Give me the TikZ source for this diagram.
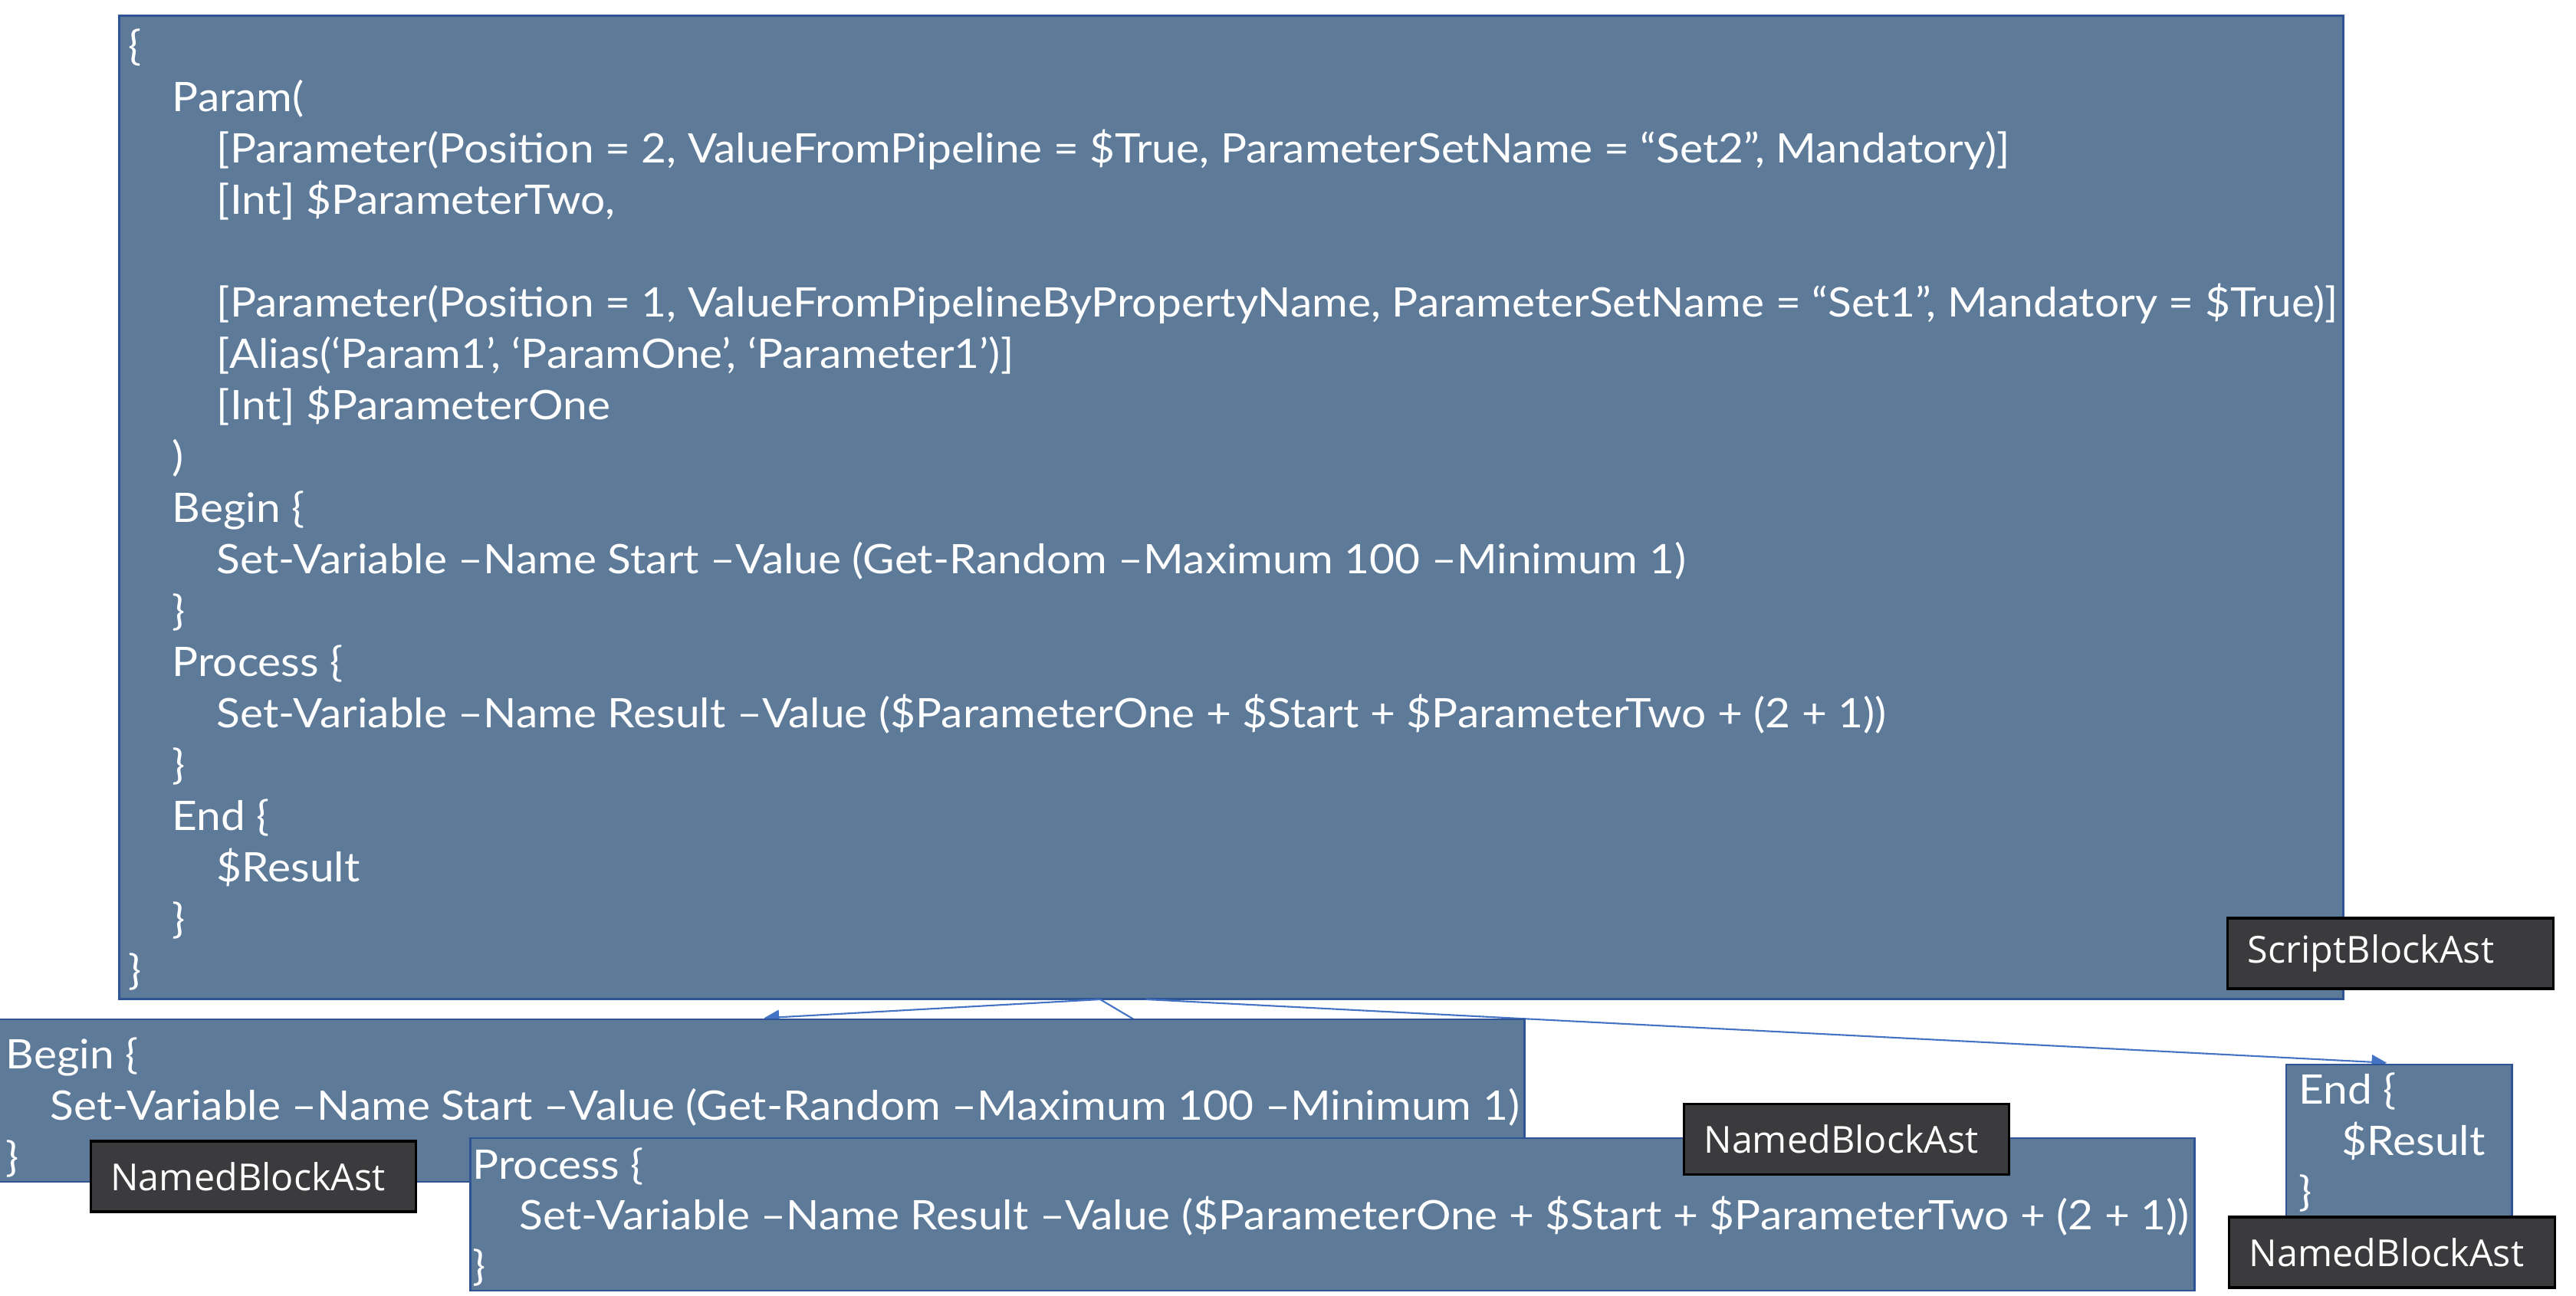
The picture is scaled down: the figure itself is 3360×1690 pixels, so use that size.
\documentclass[tikz,border=0pt]{standalone}
\usepackage{fontspec}
\newfontfamily\codefont{Lato}
\newfontfamily\labelfont{Open Sans}
\usetikzlibrary{arrows.meta}
\definecolor{boxfill}{HTML}{5D7A99}
\definecolor{boxline}{HTML}{2F5496}
\definecolor{arrowc}{HTML}{4472C4}
\definecolor{lblfill}{HTML}{3B3B3D}
\newcommand{\codetext}[1]{\scalebox{1.07}[1]{#1}}
\tikzset{
  x=0.01cm, y=-0.01cm,
  codebox/.style={draw=boxline, fill=boxfill, line width=0.8pt, rectangle, inner sep=0pt},
  code/.style={anchor=base west, inner sep=0pt, text=white, font=\codefont\fontsize{15.1}{18}\selectfont},
  lbl/.style={draw=black, fill=lblfill, line width=0.9pt, rectangle, text=white,
    font=\labelfont\fontsize{13.8}{15}\selectfont, inner xsep=0.26cm, inner ysep=0pt,
    text width=3.72cm, align=left, minimum height=0.92cm},
  conn/.style={draw=arrowc, line width=0.6pt, -{Triangle[length=5.6pt,width=5.4pt]}}
}
\begin{document}
\begin{tikzpicture}
\useasboundingbox (0,0) rectangle (3360,1690);
% main script block
\node[codebox, minimum width=29cm, minimum height=12.82cm] (main) at (1606,662) {};
\node[code] (l0) at (167,78) {\codetext{\{}};
\node[code] (l1) at (224,145) {\codetext{Param(}};
\node[code] (l2) at (282,212) {\codetext{[Parameter(Position = 2, ValueFromPipeline = \$True, ParameterSetName = “Set2”, Mandatory)]}};
\node[code] (l3) at (282,279) {\codetext{[Int] \$ParameterTwo,}};
\node[code] (l5) at (282,413) {\codetext{[Parameter(Position = 1, ValueFromPipelineByPropertyName, ParameterSetName = “Set1”, Mandatory = \$True)]}};
\node[code] (l6) at (282,480) {\codetext{[Alias(‘Param1’, ‘ParamOne’, ‘Parameter1’)]}};
\node[code] (l7) at (282,547) {\codetext{[Int] \$ParameterOne}};
\node[code] (l8) at (224,614) {\codetext{)}};
\node[code] (l9) at (224,681) {\codetext{Begin \{}};
\node[code] (l10) at (282,748) {\codetext{Set-Variable –Name Start –Value (Get-Random –Maximum 100 –Minimum 1)}};
\node[code] (l11) at (224,815) {\codetext{\}}};
\node[code] (l12) at (224,882) {\codetext{Process \{}};
\node[code] (l13) at (282,949) {\codetext{Set-Variable –Name Result –Value (\$ParameterOne + \$Start + \$ParameterTwo + (2 + 1))}};
\node[code] (l14) at (224,1016) {\codetext{\}}};
\node[code] (l15) at (224,1083) {\codetext{End \{}};
\node[code] (l16) at (282,1150) {\codetext{\$Result}};
\node[code] (l17) at (224,1217) {\codetext{\}}};
\node[code] (l18) at (167,1284) {\codetext{\}}};
\node[lbl] (sba) at (3118,1244) {ScriptBlockAst};
% connectors
\coordinate (o1) at (1435,1304);
\coordinate (o2) at (1495,1304);
\node[codebox, draw=none, fill=none, minimum width=19.9cm, minimum height=2.12cm] (beginpos) at (993,1436) {};
\node[codebox, draw=none, fill=none, minimum width=22.48cm, minimum height=1.99cm] (procpos) at (1738,1584.5) {};
\node[codebox, draw=none, fill=none, minimum width=2.94cm, minimum height=1.99cm] (endpos) at (3129,1488.5) {};
\draw[conn, shorten >=1pt] (o1) -- (beginpos.north);
\draw[conn] (o1) -- (procpos.north);
\draw[conn, shorten >=4.5pt] (o2) -- (endpos.north);
% begin block
\node[codebox, minimum width=19.9cm, minimum height=2.12cm] (begin) at (993,1436) {};
\node[code] (b0) at (7,1394) {\codetext{Begin \{}};
\node[code] (b1) at (65,1461) {\codetext{Set-Variable –Name Start –Value (Get-Random –Maximum 100 –Minimum 1)}};
\node[code] (b2) at (7,1528) {\codetext{\}}};
\node[lbl] (nb1) at (330.5,1535) {NamedBlockAst};
% process block
\node[codebox, minimum width=22.48cm, minimum height=1.99cm] (process) at (1738,1584.5) {};
\node[code] (p0) at (616,1538) {\codetext{Process \{}};
\node[code] (p1) at (677,1604) {\codetext{Set-Variable –Name Result –Value (\$ParameterOne + \$Start + \$ParameterTwo + (2 + 1))}};
\node[code] (p2) at (616,1670) {\codetext{\}}};
\node[lbl] (nb2) at (2408.5,1486.5) {NamedBlockAst};
% end block
\node[codebox, minimum width=2.94cm, minimum height=1.99cm] (end) at (3129,1488.5) {};
\node[code] (e0) at (2998,1440) {\codetext{End \{}};
\node[code] (e1) at (3054,1507) {\codetext{\$Result}};
\node[code] (e2) at (2998,1573) {\codetext{\}}};
\node[lbl] (nb3) at (3120,1634) {NamedBlockAst};
\end{tikzpicture}
\end{document}
